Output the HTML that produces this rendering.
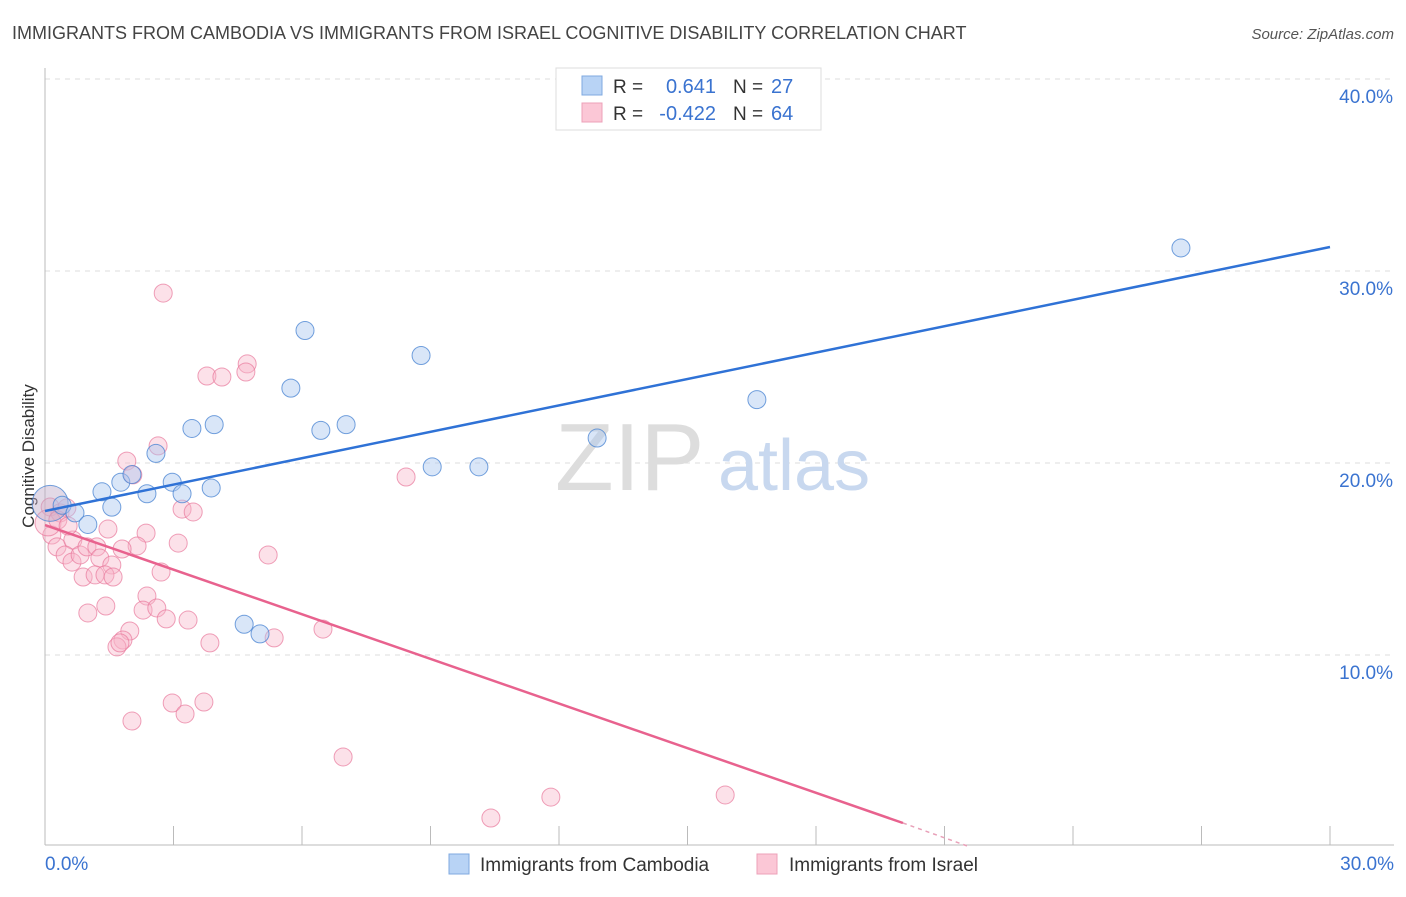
<!DOCTYPE html>
<html><head><meta charset="utf-8"><style>
body{margin:0;background:#fff;font-family:"Liberation Sans",sans-serif}
svg text{font-family:"Liberation Sans",sans-serif}
</style></head><body>
<svg id="chart" width="1406" height="892" xmlns="http://www.w3.org/2000/svg">
<text x="12" y="39" font-size="18" fill="#444">IMMIGRANTS FROM CAMBODIA VS IMMIGRANTS FROM ISRAEL COGNITIVE DISABILITY CORRELATION CHART</text>
<text x="1394" y="39" font-size="15" fill="#555" text-anchor="end" font-style="italic">Source: ZipAtlas.com</text>
<text transform="translate(34,456) rotate(-90)" font-size="17" fill="#333" text-anchor="middle">Cognitive Disability</text>
<g id="grid"></g>
<g id="watermark">
<text x="555" y="490" font-size="96" fill="#ddd" font-family="Liberation Serif,serif">ZIP</text>
<text x="718" y="490" font-size="72" fill="#c8d8ef">atlas</text>
</g>
<g id="marks"></g>
<g>
<rect x="556" y="68" width="265" height="62" fill="#fff" stroke="#ddd"/>
<rect x="582" y="76" width="20" height="19" fill="#b8d3f5" stroke="#7fa9e0"/>
<rect x="582" y="103" width="20" height="19" fill="#fbc7d6" stroke="#eda0b8"/>
<text x="613" y="93" font-size="19" fill="#333">R = </text><text x="716" y="93" font-size="20" fill="#3a73d0" text-anchor="end">0.641</text>
<text x="733" y="93" font-size="19" fill="#333">N = </text><text x="771" y="93" font-size="20" fill="#3a73d0">27</text>
<text x="613" y="120" font-size="19" fill="#333">R = </text><text x="716" y="120" font-size="20" fill="#3a73d0" text-anchor="end">-0.422</text>
<text x="733" y="120" font-size="19" fill="#333">N = </text><text x="771" y="120" font-size="20" fill="#3a73d0">64</text>
</g>
<g>
<rect x="449" y="854" width="20" height="20" fill="#b8d3f5" stroke="#7fa9e0"/>
<text x="480" y="871" font-size="19" fill="#333">Immigrants from Cambodia</text>
<rect x="757" y="854" width="20" height="20" fill="#fbc7d6" stroke="#eda0b8"/>
<text x="789" y="871" font-size="19" fill="#333">Immigrants from Israel</text>
</g>
</svg>
<script>
const xTicks=[0,30];
const yTicks=[10,20,30,40];
const blueX=[0.12,0.40,0.70,1.00,1.33,1.56,1.77,2.03,2.38,2.59,2.97,3.20,3.43,3.88,3.95,4.65,5.02,5.74,6.07,6.44,7.03,8.78,9.04,10.13,12.89,16.62,26.52];
const blueY=[17.9,17.8,17.4,16.8,18.5,17.7,19.0,19.4,18.4,20.5,19.0,18.4,21.8,18.7,22.0,11.6,11.1,23.9,26.9,21.7,22.0,25.6,19.8,19.8,21.3,23.3,31.2];
const pinkX=[2.64,1.91,2.05,3.20,3.46,1.47,2.36,2.15,1.80,3.11,5.21,0.16,0.28,0.65,0.47,0.63,0.82,0.98,1.21,1.28,1.56,0.89,1.17,1.40,1.59,2.71,2.38,2.29,2.61,2.83,3.34,1.00,1.42,1.98,1.82,1.68,1.75,3.85,5.35,6.49,2.97,3.27,3.71,2.03,0.12,0.35,0.07,0.51,0.30,2.76,3.78,4.13,4.72,4.69,8.43,6.96,10.41,11.81,15.88,0.54];
const pinkY=[20.89,20.10,19.38,17.60,17.45,16.56,16.35,15.68,15.52,15.83,15.21,16.25,15.63,15.99,15.21,14.84,15.21,15.63,15.63,15.05,14.69,14.06,14.17,14.17,14.06,14.32,13.07,12.34,12.45,11.88,11.82,12.19,12.55,11.25,10.78,10.42,10.63,10.63,10.89,11.35,7.50,6.93,7.55,6.56,17.71,17.40,16.88,17.66,17.03,28.85,24.53,24.48,25.16,24.74,19.27,4.69,1.51,2.60,2.71,16.72];
const blueLine=[0,17.5,30,31.25];
const pinkLine=[0,16.77,20.03,1.25,21.6,0];
const NS="http://www.w3.org/2000/svg";
const X=v=>45+v*42.833, Y=v=>847-v*19.2;
function mk(tag,attrs,parent){const e=document.createElementNS(NS,tag);for(const k in attrs)e.setAttribute(k,attrs[k]);parent.appendChild(e);return e;}
const grid=document.getElementById('grid'), marks=document.getElementById('marks'), svg=document.getElementById('chart');
yTicks.forEach(t=>{
 const l=mk('line',{x1:45,x2:1394,y1:Y(t),y2:Y(t),stroke:'#ddd','stroke-dasharray':'5,5'},grid);
 
 
 const tx=mk('text',{x:1393,y:Y(t)+24,'font-size':19,fill:'#3a73d0','text-anchor':'end'},grid);
 tx.textContent=t.toFixed(1)+'%';
 
 
});
mk('line',{x1:45,x2:45,y1:68,y2:845,stroke:'#bbb'},grid);
mk('line',{x1:45,x2:1394,y1:845,y2:845,stroke:'#bbb'},grid);
for(let i=0;i<=10;i++){const t=mk('line',{x1:X(i*3),x2:X(i*3),y1:826,y2:845,stroke:'#bbb'},grid);
 
 }
xTicks.forEach((t,i)=>{const tx=mk('text',{x:i==0?45:1394,y:870,'font-size':19,fill:'#3a73d0','text-anchor':i==0?'start':'end'},grid);
 tx.textContent=t.toFixed(1)+'%';
 
 });
pinkX.forEach((v,i)=>{const c=mk('circle',{cx:X(v),cy:Y(pinkY[i]),r:i==46?13:9,fill:'rgba(248,180,200,0.4)',stroke:'rgba(232,120,155,0.7)','stroke-width':1},marks);
 
 });
blueX.forEach((v,i)=>{const c=mk('circle',{cx:X(v),cy:Y(blueY[i]),r:i==0?18:9,fill:i==0?'rgba(190,170,200,0.45)':'rgba(170,200,240,0.45)',stroke:'rgba(70,130,210,0.75)','stroke-width':1},marks);
 
 });
const bl=mk('line',{x1:X(blueLine[0]),y1:Y(blueLine[1]),x2:X(blueLine[2]),y2:Y(blueLine[3]),stroke:'#2f72d6','stroke-width':2.5},marks);


const pl=mk('line',{x1:X(pinkLine[0]),y1:Y(pinkLine[1]),x2:X(pinkLine[2]),y2:Y(pinkLine[3]),stroke:'#e8628e','stroke-width':2.5},marks);


const pd=mk('line',{x1:X(pinkLine[2]),y1:Y(pinkLine[3]),x2:X(pinkLine[4]),y2:Y(pinkLine[5]),stroke:'#e8a0b8','stroke-width':1.5,'stroke-dasharray':'4,4'},marks);


</script>
</body></html>
